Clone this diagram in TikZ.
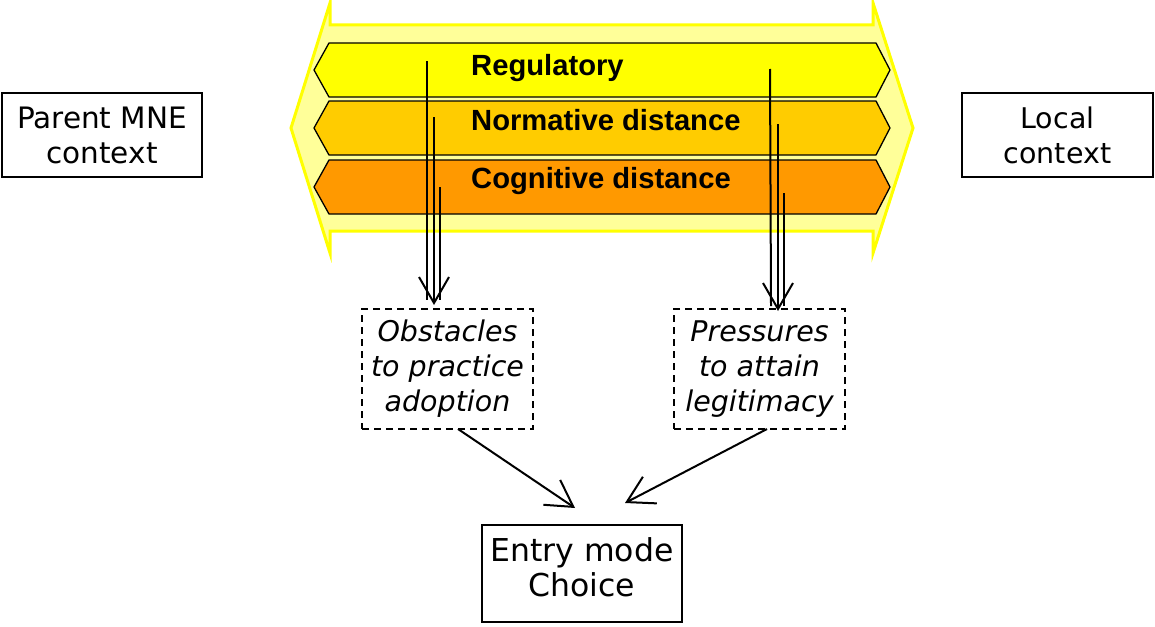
\documentclass[tikz,border=0pt]{standalone}
\usepackage{fontspec}
\setmainfont{DejaVu Sans}
\newfontfamily\bandfont{Liberation Sans}
\usetikzlibrary{arrows.meta}
\definecolor{ltyel}{HTML}{FFFF99}
\definecolor{yel}{HTML}{FFFF00}
\definecolor{gold}{HTML}{FFCC00}
\definecolor{orng}{HTML}{FF9900}
\tikzset{
  ctxbox/.style={draw=black, line width=1.2pt, align=center, inner sep=0pt,
    font=\fontsize{29.5}{35}\selectfont},
  plaintext/.style={align=center, inner sep=0pt},
  dashbox/.style={draw=black, dash pattern=on 7pt off 5pt, line width=1.7pt,
    align=center, inner sep=0pt, minimum width=171pt, minimum height=120pt,
    font=\fontsize{28.5}{35}\selectfont\itshape},
  bandlabel/.style={anchor=base west, inner sep=0pt,
    font=\bandfont\bfseries\fontsize{29.2}{30}\selectfont},
  band/.style={draw=black, line width=1.3pt},
  conn/.style={draw=black, line width=2pt},
  barb/.style={conn, -{Straight Barb[length=26pt,width=30pt]}}
}
\begin{document}
\begin{tikzpicture}[x=1pt,y=-1pt]
\useasboundingbox (0,0) rectangle (1155,626);
% outer double arrow
\draw[fill=ltyel, draw=yel, line width=3pt, line join=miter]
  (291,128) -- (330,3) -- (330,25) -- (873,25) -- (873,3) -- (913,128)
  -- (873,253) -- (873,231) -- (330,231) -- (330,253) -- cycle;
% bands
\draw[band, fill=yel]  (329,43) -- (876,43) -- (890,70) -- (876,97) -- (329,97) -- (314,70) -- cycle;
\draw[band, fill=gold] (329,101) -- (876,101) -- (890,128) -- (876,155) -- (329,155) -- (314,128) -- cycle;
\draw[band, fill=orng] (329,160) -- (876,160) -- (890,187) -- (876,214) -- (329,214) -- (314,187) -- cycle;
\node[bandlabel] (reg) at (471,75) {Regulatory};
\node[bandlabel] (norm) at (471,130) {Normative distance};
\node[bandlabel] (cog) at (471,188) {Cognitive distance};
% context boxes
\node[ctxbox, minimum width=200pt, minimum height=84pt] (parent) at (102,135) {Parent MNE\\context};
\node[ctxbox, minimum width=191pt, minimum height=84pt, font=\fontsize{28.5}{35}\selectfont] (local) at (1057.5,135) {Local\\context};
% dashed boxes
\node[dashbox] (obs) at (447.5,369) {Obstacles\\to practice\\adoption};
\node[dashbox] (pres) at (759.5,369) {Pressures\\to attain\\legitimacy};
% entry mode
\node[draw=black, line width=1.5pt, minimum width=200pt, minimum height=97pt, inner sep=0pt] (entry) at (582,573.5) {};
\node[plaintext, font=\fontsize{31.5}{35}\selectfont] (entrytxt) at (582,567) {Entry mode\\Choice};
% vertical connectors, left group
\coordinate (la) at (427,61);
\coordinate (lb) at (434,117);
\coordinate (lc) at (440,187);
\coordinate (lae) at (427,300);
\coordinate (lbe) at (434,305);
\coordinate (lce) at (440,300);
\draw[conn] (la) -- (lae);
\draw[conn] (lc) -- (lce);
\draw[barb] (lb) -- (lbe);
% vertical connectors, right group
\coordinate (ra) at (770,69);
\coordinate (rb) at (778,124);
\coordinate (rc) at (784,193);
\coordinate (rae) at (771,306);
\coordinate (rbe) at (778,311);
\coordinate (rce) at (784,306);
\draw[conn] (ra) -- (rae);
\draw[conn] (rc) -- (rce);
\draw[barb] (rb) -- (rbe);
% diagonal connectors
\coordinate (os) at (458,429);
\coordinate (ot) at (575,508);
\coordinate (ps) at (767,429);
\coordinate (pt) at (625,503);
\draw[barb] (os) -- (ot);
\draw[barb] (ps) -- (pt);
\end{tikzpicture}
\end{document}
